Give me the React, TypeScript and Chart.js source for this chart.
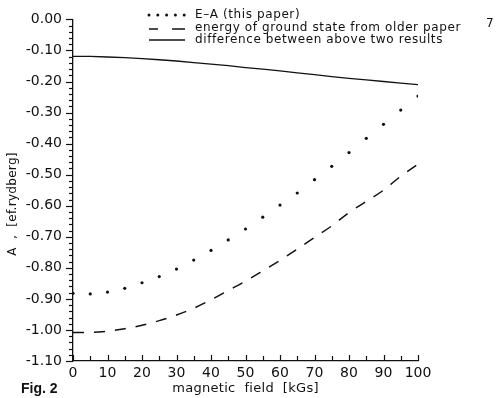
import React, { useEffect, useRef } from "react";
import { Chart, registerables } from "chart.js";

Chart.register(...registerables);

// magnetic field [kGs]
const fieldKGs = [0, 5, 10, 15, 20, 25, 30, 35, 40, 45, 50, 55, 60, 65, 70, 75, 80, 85, 90, 95, 100];
// E-A (this paper)
const eaValues = [-0.882, -0.884, -0.878, -0.866, -0.848, -0.828, -0.804, -0.775, -0.744, -0.71, -0.675, -0.637, -0.598, -0.559, -0.516, -0.473, -0.429, -0.383, -0.338, -0.292, -0.247];
// energy of ground state from older paper
const groundValues = [-1.008, -1.008, -1.004, -0.996, -0.985, -0.97, -0.952, -0.93, -0.903, -0.873, -0.843, -0.81, -0.776, -0.74, -0.702, -0.665, -0.622, -0.586, -0.55, -0.505, -0.466];
// difference between above two results
const diffValues = [-0.119, -0.119, -0.121, -0.123, -0.126, -0.13, -0.134, -0.139, -0.144, -0.149, -0.155, -0.16, -0.166, -0.172, -0.178, -0.184, -0.19, -0.195, -0.2, -0.205, -0.21];

const legendLabels = ["E\u2013A (this paper)", "energy of ground state from older paper", "difference between above two results"];
const legendNote = "7";
const xTitle = "magnetic  field  [kGs]";
const yTitle = "A  ,  [ef.rydberg]";
const figLabel = "Fig. 2";

const INK = "#111";

const decorPlugin = {
  id: "decor",
  afterDraw(chart: any) {
    const ctx = chart.ctx as CanvasRenderingContext2D;
    const xs = chart.scales.x;
    const ys = chart.scales.y;
    const area = chart.chartArea;
    ctx.save();
    ctx.strokeStyle = INK;
    ctx.lineWidth = 1.2;
    // y ticks (outward, left)
    ys.ticks.forEach((t: any) => {
      const v = t.value;
      const y = Math.round(ys.getPixelForValue(v)) + 0.5;
      const major = Math.abs(Math.round(v * 10) - v * 10) < 1e-6;
      const len = major ? 7 : 4;
      ctx.beginPath();
      ctx.moveTo(area.left - len, y);
      ctx.lineTo(area.left, y);
      ctx.stroke();
    });
    // x ticks (inward, up)
    xs.ticks.forEach((t: any) => {
      const v = t.value;
      const x = Math.round(xs.getPixelForValue(v)) + 0.5;
      const major = Math.abs(v % 10) < 1e-6;
      const len = major ? 6 : 5;
      ctx.beginPath();
      ctx.moveTo(x, area.bottom);
      ctx.lineTo(x, area.bottom - len);
      ctx.stroke();
    });

    // legend
    const mx0 = 148;
    const mx1 = 185;
    const rows = [15, 28, 40];
    ctx.fillStyle = INK;
    for (let i = 0; i < 5; i++) {
      ctx.beginPath();
      ctx.arc(mx0 + 1 + i * 8.8, rows[0], 1.5, 0, Math.PI * 2);
      ctx.fill();
    }
    ctx.lineWidth = 1.4;
    ctx.beginPath();
    ctx.moveTo(mx0 + 1, rows[1] + 1);
    ctx.lineTo(mx0 + 10, rows[1] + 1);
    ctx.moveTo(mx0 + 24, rows[1] + 1);
    ctx.lineTo(mx1, rows[1] + 1);
    ctx.stroke();
    ctx.beginPath();
    ctx.moveTo(mx0 + 1, rows[2]);
    ctx.lineTo(mx1, rows[2]);
    ctx.stroke();

    ctx.font = "12px 'DejaVu Sans'";
    (ctx as any).letterSpacing = "0.6px";
    ctx.textBaseline = "middle";
    ctx.textAlign = "left";
    legendLabels.forEach((s, i) => ctx.fillText(s, 195, rows[i]));
    ctx.fillText(legendNote, 486, rows[1] - 4);

    // x title
    ctx.font = "13px 'DejaVu Sans'";
    (ctx as any).letterSpacing = "0.3px";
    ctx.textAlign = "center";
    ctx.fillText(xTitle, (area.left + area.right) / 2, 389);

    // y title
    ctx.save();
    ctx.translate(13, 204);
    ctx.rotate(-Math.PI / 2);
    ctx.font = "12px 'DejaVu Sans'";
    ctx.fillText(yTitle, 0, 0);
    ctx.restore();

    // figure label
    ctx.font = "bold 14px 'Liberation Sans'";
    (ctx as any).letterSpacing = "0px";
    ctx.textAlign = "left";
    ctx.fillText(figLabel, 21, 389);
    ctx.restore();
  },
};

export default function App() {
  const ref = useRef<HTMLCanvasElement | null>(null);
  useEffect(() => {
    if (!ref.current) return;
    const pts = (vals: number[]) => fieldKGs.map((x, i) => ({ x, y: vals[i] }));
    const chart = new Chart(ref.current, {
      type: "line",
      data: {
        datasets: [
          {
            label: legendLabels[0],
            data: pts(eaValues),
            showLine: false,
            pointRadius: 1.6,
            pointBackgroundColor: INK,
            pointBorderWidth: 0,
            borderColor: INK,
          },
          {
            label: legendLabels[1],
            data: pts(groundValues),
            borderColor: INK,
            borderWidth: 1.5,
            borderDash: [11, 10],
            pointRadius: 0,
            cubicInterpolationMode: "monotone",
          },
          {
            label: legendLabels[2],
            data: pts(diffValues),
            borderColor: INK,
            borderWidth: 1.3,
            pointRadius: 0,
          },
        ],
      },
      options: {
        responsive: false,
        animation: false,
        devicePixelRatio: 1,
        layout: { padding: { left: 0, right: 80, top: 17, bottom: 0 } },
        plugins: { legend: { display: false }, tooltip: { enabled: false } },
        scales: {
          x: {
            type: "linear",
            min: 0,
            max: 100,
            grid: { display: false, drawTicks: false },
            border: { display: true, color: INK, width: 1.3 },
            ticks: {
              stepSize: 5,
              autoSkip: false,
              maxRotation: 0,
              padding: 4,
              color: INK,
              font: { family: "'DejaVu Sans'", size: 14 },
              callback: (v: any) => (Math.abs(Number(v) % 10) < 1e-6 ? String(Math.round(Number(v))) : ""),
            },
            afterFit: (s: any) => {
              s.height = 37;
            },
          },
          y: {
            type: "linear",
            min: -1.1,
            max: 0,
            grid: { display: false, drawTicks: false },
            border: { display: true, color: INK, width: 1.3 },
            ticks: {
              stepSize: 0.02,
              autoSkip: false,
              padding: 11,
              color: INK,
              font: { family: "'DejaVu Sans'", size: 14 },
              callback: (v: any) => {
                const n = Number(v);
                if (Math.abs(Math.round(n * 10) - n * 10) > 1e-6) return "";
                const r = Math.round(n * 10) / 10;
                return r === 0 ? "0.00" : r.toFixed(2);
              },
            },
            afterFit: (s: any) => {
              s.width = 73;
            },
          },
        },
      },
      plugins: [decorPlugin],
    } as any);
    return () => chart.destroy();
  }, []);
  return (
    <div style={{ position: "fixed", left: 0, top: 0, width: 498, height: 398, background: "#fff" }}>
      <canvas ref={ref} width={498} height={398} />
    </div>
  );
}
